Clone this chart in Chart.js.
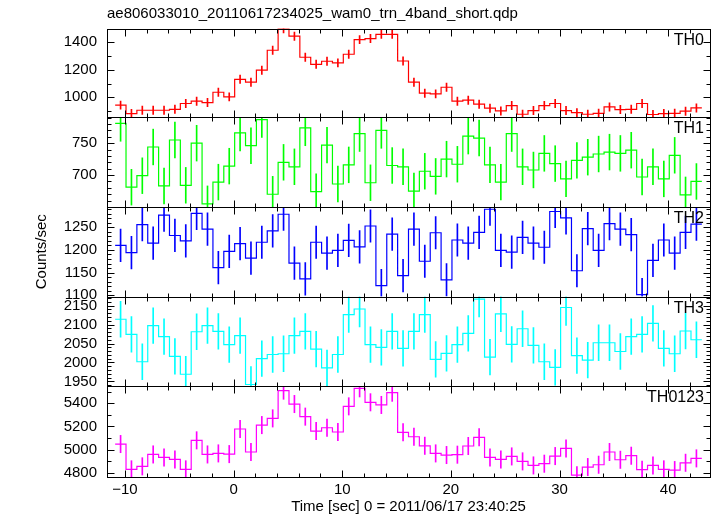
<!DOCTYPE html>
<html lang="en">
<head>
<meta charset="UTF-8">
<title>ae806033010 wam0 trn 4band light curve</title>
<script src="https://cdn.jsdelivr.net/npm/chart.js@4"></script>
<style>
  body { margin: 0; background: #fff; }
  #wrap { width: 717px; height: 516px; }
</style>
</head>
<body>
<div id="wrap"><canvas id="lc" width="717" height="516"></canvas></div>
<script>
const fileTitle = 'ae806033010_20110617234025_wam0_trn_4band_short.qdp';
const timeTitle = 'Time [sec] 0 = 2011/06/17 23:40:25';
const yTitle = 'Counts/sec';

// bin centres [sec]
const time = [-10.4,-9.4,-8.4,-7.4,-6.4,-5.4,-4.4,-3.4,-2.4,-1.4,-0.4,0.6,1.6,2.6,3.6,4.6,5.6,6.6,7.6,8.6,
  9.6,10.6,11.6,12.6,13.6,14.6,15.6,16.6,17.6,18.6,19.6,20.6,21.6,22.6,23.6,24.6,25.6,26.6,27.6,28.6,
  29.6,30.6,31.6,32.6,33.6,34.6,35.6,36.6,37.6,38.6,39.6,40.6,41.6,42.6];

const th0 = [943,882,906,906,906,913,955,972,962,1037,1003,1131,1110,1197,1342,1497,1444,1291,1240,1262,
  1250,1313,1419,1427,1458,1458,1264,1110,1030,1025,1073,972,979,950,921,901,940,877,904,940,
  955,904,889,877,884,930,911,913,955,875,882,884,899,923];
const th1 = [781,681,699,744,683,755,684,750,655,689,714,766,746,787,670,720,713,774,674,747,
  686,716,765,688,770,715,713,675,706,698,725,717,761,758,716,689,765,713,708,734,
  718,694,723,728,733,736,734,739,697,713,694,731,669,690];
const th2 = [1210,1194,1256,1215,1277,1232,1220,1281,1246,1161,1197,1214,1182,1217,1242,1279,1171,1136,1217,1193,
  1199,1221,1207,1253,1121,1235,1143,1246,1175,1238,1134,1222,1215,1239,1290,1199,1195,1228,1215,1206,
  1285,1271,1154,1247,1199,1258,1246,1234,1101,1177,1222,1193,1239,1257];
const th3 = [2114,2074,2002,2097,2068,2016,1969,2081,2097,2082,2047,2071,1942,2010,2021,2023,2071,2082,2035,1986,
  2021,2126,2141,2047,2040,2082,2037,2082,2126,2008,2024,2047,2077,2167,2014,2128,2048,2089,2045,2002,
  1987,2145,2018,2006,2052,2052,2029,2068,2074,2103,2037,2023,2083,2060];
const th0123 = [5048,4829,4855,4958,4932,4915,4829,5080,4958,4967,4961,5178,4979,5212,5270,5510,5394,5285,5160,5189,
  5152,5374,5530,5409,5386,5492,5149,5111,5033,4967,4953,4956,5031,5106,4932,4915,4941,4898,4863,4878,
  4944,5010,4779,4849,4869,4979,4912,4947,4826,4863,4829,4823,4886,4924];

const bandNames = ['TH0', 'TH1', 'TH2', 'TH3', 'TH0123'];
const bandColors = ['#ff0000', '#00ff00', '#0000ff', '#00ffff', '#ff00ff'];
const bandErr = [30, 28, 36, 47, 75];   // 1 sigma, roughly constant per band
const yMin = [857, 650, 1097, 1938, 4763];
const yMax = [1500, 791, 1295, 2174, 5550];
const yTicks = [[1000,1200,1400], [700,750], [1100,1150,1200,1250], [1950,2000,2050,2100,2150], [4800,5000,5200,5400]];
const yMinor = [100, 10, 10, 10, 100];
const xTicks = [-10, 0, 10, 20, 30, 40];
const xMinor = 2;
const xMin = -11.65, xMax = 43.85;
const panelWeight = [88.5, 90, 89.5, 89.5, 91];

const FONT = 'Liberation Sans, Arial, Helvetica, sans-serif';
Chart.defaults.font.family = FONT;
Chart.defaults.color = '#000';

const series = [th0, th1, th2, th3, th0123];
const datasets = [];
series.forEach((vals, i) => {
  const n = vals.length;
  const steps = vals.map((v, k) => ({x: time[k], y: v}));
  // half a bin on each end so the first/last step is full width
  steps.unshift({x: time[0] - 0.5, y: vals[0]});
  steps.push({x: time[n - 1] + 0.5, y: vals[n - 1]});
  datasets.push({
    type: 'line', data: steps, yAxisID: 'y' + i, xAxisID: 'x',
    stepped: 'middle', borderColor: bandColors[i], borderWidth: 1.2,
    pointRadius: 0, fill: false
  });
  datasets.push({
    type: 'bar', yAxisID: 'y' + i, xAxisID: 'x',
    data: vals.map((v, k) => ({x: time[k], y: [Math.max(v - bandErr[i], yMin[i]), Math.min(v + bandErr[i], yMax[i])]})),
    backgroundColor: bandColors[i], borderWidth: 0, barThickness: 1, grouped: false
  });
});

const scales = {
  x: {
    type: 'linear', position: 'bottom', min: xMin, max: xMax, offset: false,
    grid: {display: false, drawTicks: false}, border: {display: false},
    afterBuildTicks: s => { s.ticks = xTicks.map(v => ({value: v})); },
    afterFit: s => { s.height = 39; },
    ticks: {font: {size: 15}, padding: 4, maxRotation: 0, autoSkip: false,
            callback: v => String(v).replace('-', '\u2212')},
    title: {display: true, text: timeTitle, font: {size: 15}, padding: {top: 0, bottom: 0}}
  }
};
// left-hand stacks are laid out last-defined first, so add the bottom panel first
for (let i = bandNames.length - 1; i >= 0; i--) {
  scales['y' + i] = {
    type: 'linear', position: 'left', stack: 'bands', stackWeight: panelWeight[i],
    min: yMin[i], max: yMax[i], offset: false,
    grid: {display: false, drawTicks: false}, border: {display: false},
    afterBuildTicks: s => { s.ticks = yTicks[i].map(v => ({value: v})); },
    afterFit: s => { s.width = 107; },
    ticks: {font: {size: 15}, padding: 10, autoSkip: false, callback: v => String(v)},
    title: i === 2
      ? {display: true, text: yTitle, font: {size: 15}, padding: {top: 33, bottom: 0}}
      : {display: false}
  };
}

// frames, inward ticks (major + minor) on every panel, panel names, file name
const qdpFrame = {
  id: 'qdpFrame',
  afterDatasetsDraw(chart) {
    const ctx = chart.ctx, ca = chart.chartArea, sx = chart.scales.x;
    const seg = (x1, y1, x2, y2) => { ctx.beginPath(); ctx.moveTo(x1, y1); ctx.lineTo(x2, y2); ctx.stroke(); };
    ctx.save();
    ctx.strokeStyle = '#000';
    ctx.lineWidth = 1;
    bandNames.forEach((name, i) => {
      const s = chart.scales['y' + i];
      const top = Math.round(s.top) + 0.5, bot = Math.round(s.bottom) + 0.5;
      const l = Math.round(ca.left) + 0.5, r = Math.round(ca.right) + 0.5;
      ctx.strokeRect(l, top, r - l, bot - top);
      for (let v = Math.ceil(s.min / yMinor[i]) * yMinor[i]; v <= s.max; v += yMinor[i]) {
        const py = Math.round(s.getPixelForValue(v)) + 0.5;
        const len = yTicks[i].includes(v) ? 7 : 4;
        seg(l, py, l + len, py);
        seg(r, py, r - len, py);
      }
      for (let t = Math.ceil(sx.min / xMinor) * xMinor; t <= sx.max; t += xMinor) {
        const px = Math.round(sx.getPixelForValue(t)) + 0.5;
        const len = t % 10 === 0 ? 7 : 4;
        seg(px, top, px, top + len);
        seg(px, bot, px, bot - len);
      }
      ctx.fillStyle = '#000';
      ctx.font = '16px ' + FONT;
      ctx.textAlign = 'right';
      ctx.textBaseline = 'middle';
      ctx.fillText(name, ca.right - 6, s.top + 12);
    });
    ctx.font = '15px ' + FONT;
    ctx.textAlign = 'left';
    ctx.textBaseline = 'middle';
    ctx.fillText(fileTitle, ca.left, 14);
    ctx.restore();
  }
};

new Chart(document.getElementById('lc'), {
  type: 'line',
  data: {datasets},
  options: {
    responsive: false,
    animation: false,
    events: [],
    devicePixelRatio: 1,
    layout: {padding: {top: 28.5, right: 7, bottom: 0, left: 0}},
    plugins: {legend: {display: false}, tooltip: {enabled: false}, title: {display: false}},
    scales
  },
  plugins: [qdpFrame]
});
</script>
</body>
</html>
